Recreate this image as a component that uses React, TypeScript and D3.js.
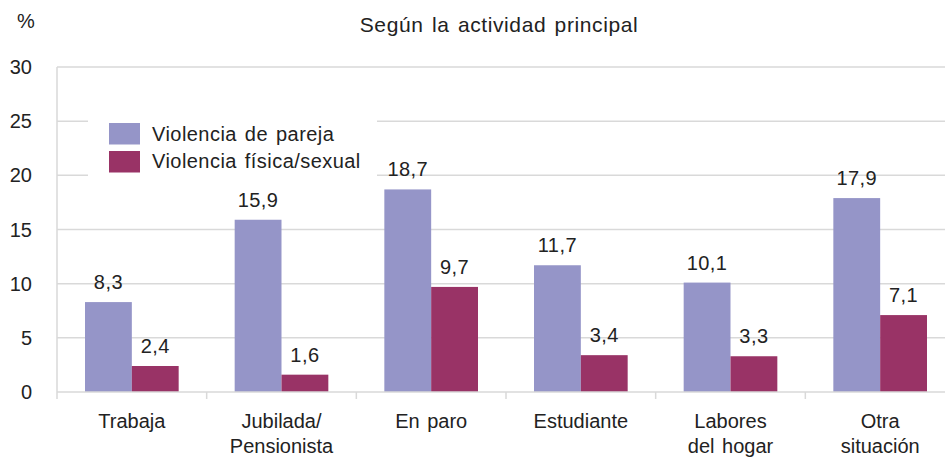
import React, { useRef, useEffect } from "react";
import * as d3 from "d3";

const categories = [
  ["Trabaja"],
  ["Jubilada/", "Pensionista"],
  ["En paro"],
  ["Estudiante"],
  ["Labores", "del hogar"],
  ["Otra", "situación"],
];
const pareja = [8.3, 15.9, 18.7, 11.7, 10.1, 17.9];
const fisica = [2.4, 1.6, 9.7, 3.4, 3.3, 7.1];
const seriesNames = ["Violencia de pareja", "Violencia física/sexual"];
const yTicks = [0, 5, 10, 15, 20, 25, 30];

const colors = ["#9595c8", "#993366"];
const FONT = "'Liberation Sans', Arial, sans-serif";
const FS = 20;

const App: React.FC = () => {
  const svgRef = useRef<SVGSVGElement | null>(null);
  const width = 945;
  const height = 458;

  useEffect(() => {
    if (!svgRef.current) return;
    const svg = d3.select(svgRef.current);
    svg.selectAll("*").remove();

    const margin = { top: 67, left: 57, bottom: 392 };
    const keys = categories.map((_, i) => String(i));

    // escala de categorias (se sale un poco por la derecha, como el original)
    const x0 = d3
      .scaleBand()
      .domain(keys)
      .range([margin.left, 955])
      .paddingInner(0)
      .paddingOuter(0);

    const x1 = d3
      .scaleBand()
      .domain(["0", "1"])
      .range([28, x0.bandwidth() - 28]);

    const y = d3.scaleLinear().domain([0, 30]).range([margin.bottom, margin.top]);

    const txt = (sel: any) =>
      sel
        .attr("font-family", FONT)
        .attr("font-size", FS)
        .attr("letter-spacing", 0.45)
        .attr("word-spacing", 2)
        .attr("fill", "#222");

    // rejilla
    svg
      .append("g")
      .selectAll("line")
      .data(yTicks.filter((t) => t > 0))
      .enter()
      .append("line")
      .attr("x1", margin.left)
      .attr("x2", width)
      .attr("y1", (d) => y(d))
      .attr("y2", (d) => y(d))
      .attr("stroke", "#d9d9d9")
      .attr("stroke-width", 1.5);

    // eje Y
    svg
      .append("line")
      .attr("x1", margin.left)
      .attr("x2", margin.left)
      .attr("y1", y(30))
      .attr("y2", y(0) + 7)
      .attr("stroke", "#d9d9d9")
      .attr("stroke-width", 1.5);

    svg
      .append("g")
      .selectAll("text")
      .data(yTicks)
      .enter()
      .append("text")
      .attr("x", 32)
      .attr("y", (d) => y(d) + 7)
      .attr("text-anchor", "end")
      .call(txt)
      .attr("letter-spacing", 0)
      .text((d) => d);

    // leyenda (fondo blanco que tapa la rejilla)
    const legend = svg.append("g");
    legend
      .append("rect")
      .attr("x", 88)
      .attr("y", 108)
      .attr("width", 289)
      .attr("height", 78)
      .attr("fill", "white");
    seriesNames.forEach((name, i) => {
      legend
        .append("rect")
        .attr("x", 109)
        .attr("y", 123 + i * 28)
        .attr("width", 31)
        .attr("height", 21.5)
        .attr("fill", colors[i]);
      legend
        .append("text")
        .attr("x", 152)
        .attr("y", 141 + i * 27)
        .call(txt)
        .text(name);
    });

    // barras
    const series = [pareja, fisica];
    const groups = svg
      .append("g")
      .selectAll("g")
      .data(keys)
      .enter()
      .append("g")
      .attr("transform", (d) => `translate(${x0(d)},0)`);

    series.forEach((vals, s) => {
      groups
        .append("rect")
        .attr("x", x1(String(s))!)
        .attr("y", (_, i) => y(vals[i]))
        .attr("width", x1.bandwidth())
        .attr("height", (_, i) => y(0) - y(vals[i]))
        .attr("fill", colors[s]);

      groups
        .append("text")
        .attr("x", x1(String(s))! + x1.bandwidth() / 2)
        .attr("y", (_, i) => y(vals[i]) - 13)
        .attr("text-anchor", "middle")
        .call(txt)
        .text((_, i) => vals[i].toFixed(1).replace(".", ","));
    });

    // eje X
    svg
      .append("line")
      .attr("x1", margin.left)
      .attr("x2", width)
      .attr("y1", y(0))
      .attr("y2", y(0))
      .attr("stroke", "#d9d9d9")
      .attr("stroke-width", 1.5);

    svg
      .append("g")
      .selectAll("line")
      .data(keys.slice(1))
      .enter()
      .append("line")
      .attr("x1", (d) => x0(d)!)
      .attr("x2", (d) => x0(d)!)
      .attr("y1", y(0))
      .attr("y2", y(0) + 7)
      .attr("stroke", "#d9d9d9")
      .attr("stroke-width", 1.5);

    categories.forEach((lines, i) => {
      const cx = x0(String(i))! + x0.bandwidth() / 2;
      lines.forEach((ln, j) => {
        svg
          .append("text")
          .attr("x", cx)
          .attr("y", 428 + j * 24.5)
          .attr("text-anchor", "middle")
          .call(txt)
          .attr("letter-spacing", 0)
          .text(ln);
      });
    });

    // titulo y unidad
    svg
      .append("text")
      .attr("x", 499)
      .attr("y", 32)
      .attr("text-anchor", "middle")
      .call(txt)
      .attr("font-size", 21)
      .attr("letter-spacing", 0.6)
      .text("Según la actividad principal");

    svg
      .append("text")
      .attr("x", 26)
      .attr("y", 28)
      .attr("text-anchor", "middle")
      .call(txt)
      .text("%");
  }, []);

  return (
    <svg
      ref={svgRef}
      width={width}
      height={height}
      style={{ position: "absolute", left: 0, top: 0, background: "white" }}
    ></svg>
  );
};

export default App;
